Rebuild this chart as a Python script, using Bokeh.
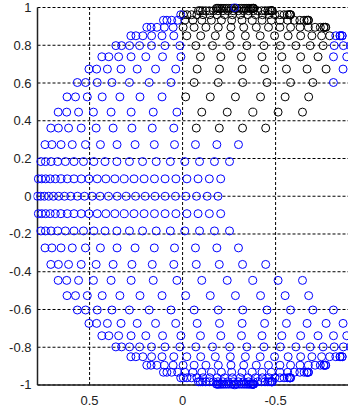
import numpy as np
from bokeh.plotting import figure
from bokeh.models import Range1d, FixedTicker
from bokeh.embed import file_html
from bokeh.resources import INLINE

# ---- values ----
ring_count = 17                 # latitude rings from equator to each pole
view_turn = 0.27                # radians: left end of every ring falls short of the rim
x_max = 0.78                    # rightmost data value (axis is tight)
x_min = -0.892                  # right edge of the visible area
x_stretch = 1.10                # horizontal half-width of the body
# angular step of the points on each ring, equator (index 0) to pole
ring_step = [0.053, 0.056, 0.075, 0.11, 0.122, 0.14, 0.145, 0.15, 0.15,
             0.15, 0.14, 0.14, 0.14, 0.14, 0.14, 0.14, 0.14, 0.14]

# right edge of the mouth (rightmost kept x) against |y|
mouth_y = [0.0, 0.09, 0.19, 0.28, 0.37, 0.44, 0.54, 0.61, 0.66, 1.0]
mouth_x = [-0.20, -0.22, -0.305, -0.41, -0.52, -0.64, -0.77, -0.87, -5.0, -5.0]

# black patch (upper right)
black_y = [0.32, 0.999]
black_x = [0.0, -0.81]

x_ticks = [0.5, 0.0, -0.5]
x_labels = ["0.5", "0", "-0.5"]
y_ticks = [-1.0, -0.8, -0.6, -0.4, -0.2, 0.0, 0.2, 0.4, 0.6, 0.8, 1.0]
y_labels = ["-1", "-0.8", "-0.6", "-0.4", "-0.2", "0", "0.2", "0.4", "0.6", "0.8", "1"]

# ---- build the point set (front half of each ring, turned) ----
center_x = x_max - x_stretch * np.cos(view_turn)
lat_step = np.pi / 2 / ring_count
bx, by, kx, ky = [], [], [], []
for k in range(-ring_count, ring_count + 1):
    lat = k * lat_step
    r = x_stretch * np.cos(lat)
    d = ring_step[abs(k)]
    if abs(k) == ring_count:
        psi = np.array([0.0])
    else:
        psi = -np.pi / 2 + d * np.arange(int(np.floor(np.pi / d)) + 1)
    hx = center_x - r * np.sin(psi + view_turn)
    vy = np.full(len(psi), np.sin(lat))
    edge = np.interp(np.abs(vy), mouth_y, mouth_x)
    keep = hx >= edge
    hx, vy = hx[keep], vy[keep]
    black = ((vy > black_y[0]) & (vy < black_y[1]) &
             (hx < black_x[0]) & (hx > black_x[1]))
    bx += list(hx[~black]); by += list(vy[~black])
    kx += list(hx[black]); ky += list(vy[black])

# frame is a few pixels larger than the axes so edge markers are not cut
px_x, px_y = 186.0, 188.5
y_lo, y_hi = y_ticks[0], y_ticks[-1]
p = figure(width=348, height=408, output_backend="svg", toolbar_location=None,
           x_range=Range1d(x_max + 4 / px_x, x_min),
           y_range=Range1d(y_lo - 4.5 / px_y, y_hi + 4 / px_y),
           min_border_left=33, min_border_right=0, min_border_top=3, min_border_bottom=19)
p.outline_line_color = None
p.background_fill_color = "white"
p.border_fill_color = "white"
p.xgrid.grid_line_color = None
p.ygrid.grid_line_color = None

# dotted grid and the two axis lines
p.segment(x0=[x_max] * len(y_ticks), y0=y_ticks, x1=[x_min] * len(y_ticks), y1=y_ticks,
          line_color="black", line_dash="3 2", line_width=1)
p.segment(x0=x_ticks, y0=[y_lo] * len(x_ticks), x1=x_ticks, y1=[y_hi] * len(x_ticks),
          line_color="black", line_dash="3 2", line_width=1)
p.segment(x0=[x_max, x_max], y0=[y_lo, y_lo], x1=[x_max, x_min], y1=[y_hi, y_lo],
          line_color="#222222", line_width=1.5)

p.scatter(kx, ky, marker="circle", size=8, fill_color=None, line_color="#000000", line_width=1)
p.scatter(bx, by, marker="circle", size=8, fill_color=None, line_color="#0000ff", line_width=1)

for ax, ticks, labels in ((p.xaxis[0], x_ticks, x_labels), (p.yaxis[0], y_ticks, y_labels)):
    ax.ticker = FixedTicker(ticks=ticks)
    ax.major_label_overrides = {t: l for t, l in zip(ticks, labels)}
    ax.minor_tick_line_color = None
    ax.major_tick_line_color = None
    ax.major_tick_in = 0
    ax.major_tick_out = 0
    ax.axis_line_color = None
    ax.major_label_text_font = "Liberation Sans"
    ax.major_label_text_font_size = "13px"
    ax.major_label_text_color = "#222222"
p.yaxis[0].major_label_standoff = 2
p.xaxis[0].major_label_standoff = 6

open("out.html", "w").write(file_html(p, INLINE))
